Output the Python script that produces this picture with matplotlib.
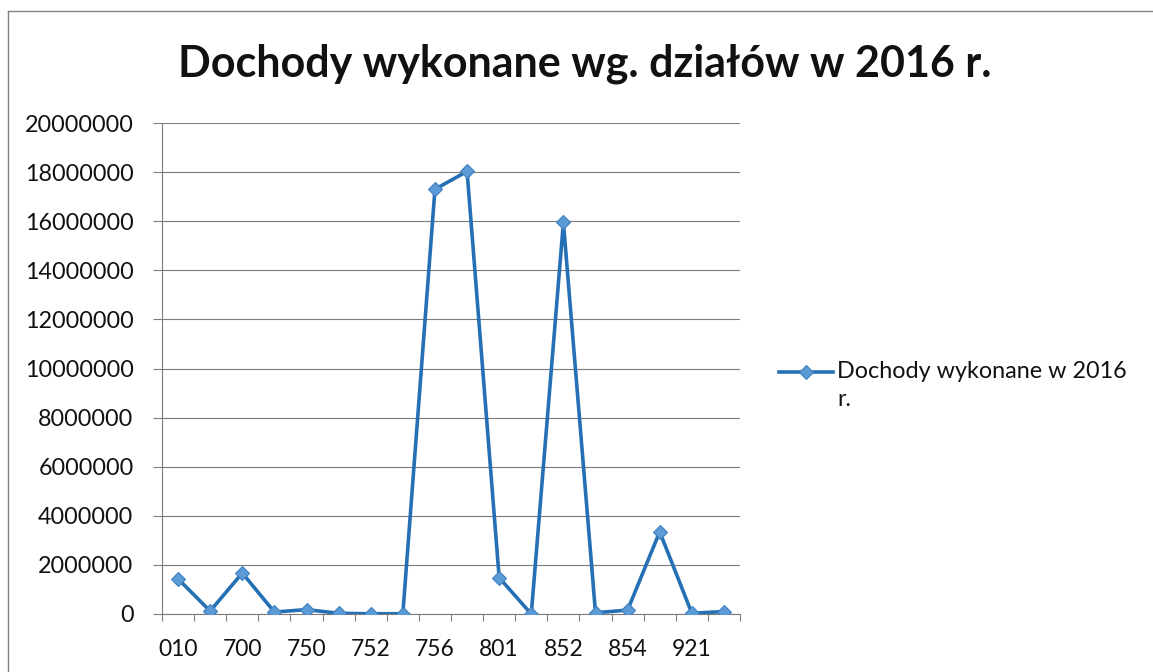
#importing libraries
import numpy as np
import matplotlib
matplotlib.use("Agg")
import matplotlib.pyplot as plt
from matplotlib.lines import Line2D

plt.rcParams['font.family'] = ['Lato', 'DejaVu Sans']

#data - dzialy budzetowe i dochody wykonane
categories = ['010', '020', '700', '710', '750', '751', '752', '754', '756',
              '758', '801', '851', '852', '853', '854', '900', '921', '926']
values = [1430000, 120000, 1670000, 80000, 180000, 30000, 10000, 10000, 17300000,
          18030000, 1480000, 0, 15950000, 50000, 160000, 3350000, 30000, 100000]
y_ticks = list(range(0, 20000001, 2000000))

title = 'Dochody wykonane wg. działów w 2016 r.'
series_name = 'Dochody wykonane w 2016\nr.'

W, H = 1153, 672
grid_color = '#7c7c7c'
line_color = '#2570b5'
marker_color = '#5b9bd5'

fig = plt.figure(figsize=(W / 100, H / 100), dpi=100)
ax = fig.add_axes([162 / W, 1 - 614 / H, (740 - 162) / W, (614 - 123) / H])

x = np.arange(len(categories))
ax.plot(x, values, color=line_color, linewidth=2.6, marker='D', markersize=7.2,
        markerfacecolor=marker_color, markeredgecolor='#3f80c0', markeredgewidth=0.8,
        zorder=3)

#axes
ax.set_xlim(-0.5, len(categories) - 0.5)
ax.set_ylim(0, 20000000)
ax.set_yticks(y_ticks)
ax.set_yticklabels([str(v) for v in y_ticks])
ax.yaxis.grid(True, color=grid_color, linewidth=0.8)
ax.set_axisbelow(True)

#ticks between categories, labels on every second category
ax.set_xticks(np.arange(-0.5, len(categories), 1))
ax.set_xticklabels([])
ax.set_xticks(x[::2], minor=True)
ax.set_xticklabels(categories[::2], minor=True)
ax.tick_params(axis='x', which='major', direction='out', length=5, color=grid_color, width=0.8)
ax.tick_params(axis='x', which='minor', length=0, pad=18, labelsize=16.5, labelcolor='#111111')
ax.tick_params(axis='y', direction='out', length=6.5, color=grid_color, width=0.8,
               pad=14, labelsize=16.8, labelcolor='#111111')

for side in ['top', 'right']:
    ax.spines[side].set_visible(False)
for side in ['left', 'bottom']:
    ax.spines[side].set_color(grid_color)
    ax.spines[side].set_linewidth(0.8)

#title
fig.text(585 / W, 1 - 76 / H, title, ha='center', va='baseline',
         fontsize=31, fontweight='bold', color='#111111')

#legend drawn by hand (text wraps like in the original)
ly = 1 - 372 / H
fig.add_artist(Line2D([779 / W, 833 / W], [ly, ly], color=line_color, linewidth=2.6))
fig.add_artist(Line2D([806 / W], [ly], marker='D', markersize=7.2, color=marker_color,
                      markeredgecolor='#3f80c0', markeredgewidth=0.8))
fig.text(837 / W, 1 - 361 / H, series_name, ha='left', va='top',
         fontsize=16.8, color='#111111', linespacing=1.4)

#chart frame
fig.add_artist(Line2D([8 / W, 8 / W], [0, 1 - 11 / H], color='#808080', linewidth=1))
fig.add_artist(Line2D([8 / W, 1], [1 - 11 / H, 1 - 11 / H], color='#808080', linewidth=1))

fig.savefig('out.png', dpi=100)
